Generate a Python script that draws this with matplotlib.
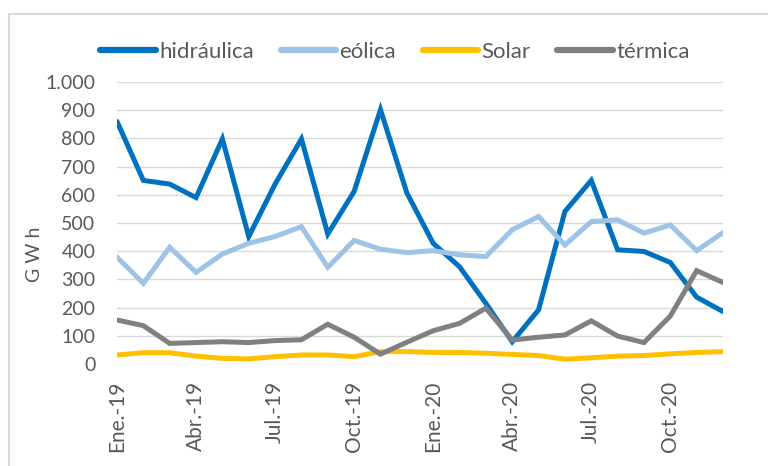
import numpy as np
import matplotlib.pyplot as plt
from matplotlib.patches import Rectangle
from matplotlib.ticker import FuncFormatter

plt.rcParams['font.family'] = ['Lato', 'DejaVu Sans']

# monthly data Ene-19 .. Dic-20 (GWh)
meses = ['Ene.-19', 'Feb.-19', 'Mar.-19', 'Abr.-19', 'May.-19', 'Jun.-19',
         'Jul.-19', 'Ago.-19', 'Sep.-19', 'Oct.-19', 'Nov.-19', 'Dic.-19',
         'Ene.-20', 'Feb.-20', 'Mar.-20', 'Abr.-20', 'May.-20', 'Jun.-20',
         'Jul.-20', 'Ago.-20', 'Sep.-20', 'Oct.-20', 'Nov.-20', 'Dic.-20']
hidraulica = [860, 651, 638, 590, 798, 452, 638, 798, 461, 612, 902, 607,
              428, 345, 215, 79, 192, 541, 651, 405, 399, 360, 237, 186]
eolica = [379, 286, 414, 325, 390, 428, 452, 487, 343, 438, 407, 395,
          402, 387, 381, 476, 523, 422, 505, 511, 464, 493, 402, 466]
solar = [32, 40, 40, 28, 20, 18, 26, 32, 32, 26, 44, 44,
         41, 41, 38, 34, 30, 17, 22, 28, 30, 36, 41, 44]
termica = [156, 136, 73, 76, 79, 76, 83, 86, 141, 95, 35, 77,
           118, 144, 198, 85, 95, 103, 153, 99, 76, 170, 331, 289]

series = [('hidráulica', hidraulica, '#0070C0'),
          ('eólica', eolica, '#9DC3E6'),
          ('Solar', solar, '#FFC000'),
          ('térmica', termica, '#808080')]

txt = '#595959'
W, H = 768, 466
fig = plt.figure(figsize=(W / 100, H / 100), dpi=100)
ax = fig.add_axes([117 / W, (H - 364) / H, (723 - 117) / W, (364 - 82) / H])

x = np.arange(len(meses))
for name, vals, col in series:
    ax.plot(x, vals, color=col, lw=3.6, label=name,
            solid_capstyle='round', solid_joinstyle='miter')

ax.set_xlim(0, len(meses) - 1)
ax.set_ylim(0, 1000)
ax.set_yticks(np.arange(0, 1001, 100))
ax.yaxis.set_major_formatter(FuncFormatter(lambda v, p: f'{int(v):,}'.replace(',', '.')))
ax.set_xticks(x[::3])
ax.set_xticklabels(meses[::3], rotation=90)
ax.tick_params(axis='both', length=0, colors=txt)
ax.tick_params(axis='y', pad=15.5, labelsize=14)
ax.tick_params(axis='x', pad=12, labelsize=15)
ax.grid(axis='y', color='#D9D9D9', lw=1.0)
ax.set_axisbelow(True)
for s in ax.spines.values():
    s.set_visible(False)

fig.text(35 / W, (H - 254) / H, 'G W h', rotation=90, color=txt,
         fontsize=14, ha='center', va='center')

leg = fig.legend(loc='center', bbox_to_anchor=(395 / W, (H - 52) / H),
                 ncol=4, frameon=False, fontsize=16, handlelength=2.5,
                 handletextpad=0.15, columnspacing=1.2)
for t in leg.get_texts():
    t.set_color(txt)
for l in leg.get_lines():
    l.set_linewidth(4.5)

# chart border (cut off on the right / bottom in the screenshot)
fig.patches.append(Rectangle((9 / W, -0.1), 1.2, (H - 14) / H + 0.1,
                             transform=fig.transFigure, fill=False,
                             ec='#D9D9D9', lw=1.5))

fig.savefig('out.png', dpi=100)
